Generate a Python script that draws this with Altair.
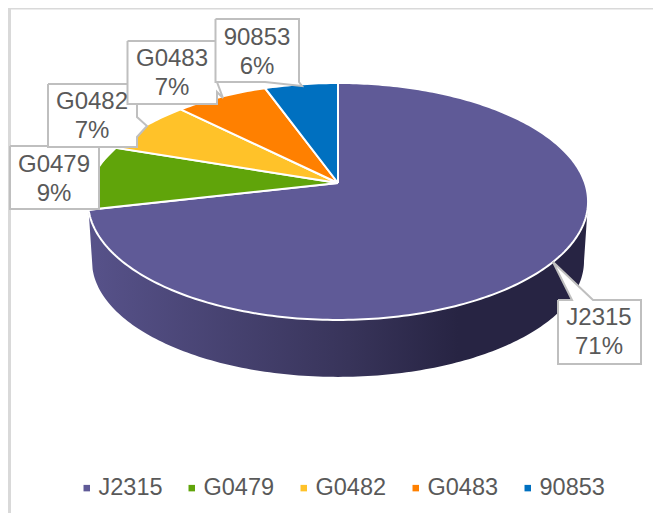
import math
import altair as alt
import pandas as pd

names = ["J2315", "G0479", "G0482", "G0483", "90853"]
shares = [71.4, 8.8, 7.3, 7.0, 5.5]
share_labels = ["71%", "9%", "7%", "7%", "6%"]
colors = ["#5F5A97", "#60A40A", "#FFC229", "#FF8000", "#0070C0"]

# layout of the tilted disc, in picture pixels
CX, CY, A, B, K = 338.0, 183.0, 115.6, 247.0, 0.156
CY2, A2, B2 = 243.0, 113.0, 243.0


def rim(t_deg, cy=CY, a=A, b=B):
    t = math.radians(t_deg)
    s, c = math.sin(t), math.cos(t)
    d = 1 + K * c
    return CX + b * s / d, cy - a * c / d


# top faces
top = []
start = 0.0
for name, share in zip(names, shares):
    end = start + share * 3.6
    pts = [(CX, CY)]
    n = max(int(share * 3.6), 2)
    pts += [rim(start + (end - start) * i / n) for i in range(n + 1)]
    pts.append((CX, CY))
    for i, (x, y) in enumerate(pts):
        top.append({"name": name, "x": x, "y": y, "o": i})
    start = end

# side wall of the first slice
wall_end = shares[0] * 3.6
wall = []
steps = 160
for i in range(steps + 1):
    wall.append(rim(99 + (wall_end - 99) * i / steps))
for i in range(steps + 1):
    wall.append(rim(wall_end - (wall_end - 99) * i / steps, CY2, A2, B2))
wall.append(wall[0])
wall_df = pd.DataFrame([{"x": x, "y": y, "o": i} for i, (x, y) in enumerate(wall)])

# callouts: outline polygons in draw order
callouts = [
    ("G0479", [(10, 146), (99, 146), (99, 209), (10, 209), (10, 146)]),
    ("G0482", [(48, 84), (137, 84), (137, 117), (147, 126), (137, 137), (137, 147), (48, 147), (48, 84)]),
    ("G0483", [(127.5, 41), (217, 41), (217, 82), (223, 98), (217, 92), (217, 104), (127.5, 104), (127.5, 41)]),
    ("90853", [(215.5, 19), (299, 19), (299, 82), (302, 86), (265, 82), (215.5, 82), (215.5, 19)]),
    ("J2315", [(558, 300), (572, 300), (553, 262), (593, 300), (641, 300), (641, 364), (558, 364), (558, 300)]),
]
chamfer = pd.DataFrame([
    {"x": 99, "y": 147, "o": 0}, {"x": 118, "y": 147, "o": 1},
    {"x": 99, "y": 166, "o": 2}, {"x": 99, "y": 147, "o": 3},
])

label_pos = {"J2315": (599, 318), "G0479": (54, 165), "G0482": (92, 102), "G0483": (172, 59), "90853": (257, 38)}
label_rows = []
for name, pct in zip(names, share_labels):
    lx, ly = label_pos[name]
    label_rows.append({"x": lx, "y": ly, "t": name})
    label_rows.append({"x": lx, "y": ly + 28.5, "t": pct})

xs = alt.Scale(domain=[8, 653], range=[0, 645], nice=False, zero=False)
ys = alt.Scale(domain=[8, 513], range=[0, 505], nice=False, zero=False)
X = alt.X("x:Q", scale=xs, axis=None)
Y = alt.Y("y:Q", scale=ys, axis=None)
FONT = "Liberation Sans"

frame = pd.DataFrame([{"x": 8, "x2": 11, "y": 8, "y2": 513}, {"x": 8, "x2": 653, "y": 8, "y2": 9.5}])
frame_layer = alt.Chart(frame).mark_rect(color="#d9d9d9").encode(X, Y, x2="x2:Q", y2="y2:Q")

wall_layer = alt.Chart(wall_df).mark_line(
    fill=alt.Gradient(
        gradient="linear", x1=0, x2=1, y1=0, y2=0,
        stops=[
            alt.GradientStop(color="#57528A", offset=0),
            alt.GradientStop(color="#38345A", offset=0.52),
            alt.GradientStop(color="#272443", offset=0.74),
            alt.GradientStop(color="#272443", offset=1),
        ],
    ),
    strokeWidth=0,
).encode(X, Y, order="o:Q")

top_layer = alt.Chart(pd.DataFrame(top)).mark_line(stroke="white", strokeWidth=2).encode(
    X, Y,
    order="o:Q",
    detail="name:N",
    fill=alt.Fill(
        "name:N",
        scale=alt.Scale(domain=names, range=colors),
        legend=alt.Legend(
            orient="none", legendX=67, legendY=468, direction="horizontal", columns=5, title=None,
            symbolType="square", symbolSize=42, symbolStrokeWidth=0, labelFont=FONT, labelFontSize=23.5,
            labelColor="#595959", labelOffset=0, columnPadding=17, labelLimit=200, padding=0,
        ),
    ),
)

chamfer_layer = alt.Chart(chamfer).mark_line(fill="white", strokeWidth=0).encode(X, Y, order="o:Q")
box_layers = [
    alt.Chart(pd.DataFrame([{"x": x, "y": y, "o": i} for i, (x, y) in enumerate(pts)])).mark_line(
        fill="white", stroke="#BFBFBF", strokeWidth=2
    ).encode(X, Y, order="o:Q")
    for _, pts in callouts
]
text_layer = alt.Chart(pd.DataFrame(label_rows)).mark_text(
    font=FONT, fontSize=24, color="#595959", align="center", baseline="middle"
).encode(X, Y, text="t:N")

chart = alt.layer(
    frame_layer, wall_layer, top_layer, chamfer_layer, *box_layers, text_layer
).properties(
    width=645, height=505, padding=0, autosize=alt.AutoSizeParams(type="none"), background="white"
).configure_view(stroke=None)

chart.save("out.html", embed_options={"renderer": "svg", "actions": False})
